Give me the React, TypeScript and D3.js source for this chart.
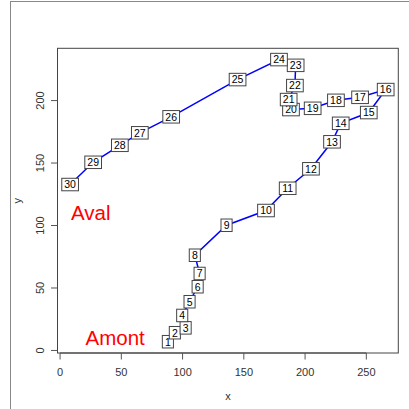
import React from "react";
import * as d3 from "d3";

const ids = [1,2,3,4,5,6,7,8,9,10,11,12,13,14,15,16,17,18,19,20,21,22,23,24,25,26,27,28,29,30];
const xs = [88.0,93.7,102.5,99.7,105.7,112.3,113.9,110.0,135.9,168.1,185.8,204.8,222.0,229.1,252.0,265.8,244.9,225.2,206.2,188.5,186.6,191.7,192.3,178.7,144.9,90.7,65.1,48.8,27.0,8.2];
const ys = [7.0,14.2,18.1,28.0,39.0,51.0,61.6,76.2,100.2,112.0,129.8,145.4,167.0,181.8,190.4,208.8,202.6,200.2,193.8,192.8,200.8,212.0,228.2,232.8,216.8,187.0,174.2,164.2,150.6,132.8];
const xTicks = [0,50,100,150,200,250];
const yTicks = [0,50,100,150,200];
const annotations = [
  { text: "Aval", x: 25, y: 110 },
  { text: "Amont", x: 45, y: 10 },
];

export default function App() {
  const W = 409, H = 409;
  const left = 57.5, right = 398.3, top = 48.3, bottom = 353;
  const [x0, x1] = d3.extent(xs) as [number, number];
  const [y0, y1] = d3.extent(ys) as [number, number];
  const px = (x1 - x0) * 0.04, py = (y1 - y0) * 0.04;
  const xScale = d3.scaleLinear().domain([x0 - px, x1 + px]).range([left, right]);
  const yScale = d3.scaleLinear().domain([y0 - py, y1 + py]).range([bottom, top]);
  const pts = ids.map((id, i) => ({ id, x: xs[i], y: ys[i] }));
  const line = d3.line<{ x: number; y: number }>().x(d => xScale(d.x)).y(d => yScale(d.y));
  const font = "Liberation Sans, Arial, Helvetica, sans-serif";
  const axisCol = "#555";
  return (
    <svg width={W} height={H} style={{ position: "absolute", left: 0, top: 0, background: "#fff" }} fontFamily={font}>
      <rect x={0} y={0} width={W} height={H} fill="#fff" />
      <line x1={10.5} y1={1} x2={10.5} y2={H} stroke="#888" strokeWidth={1} />
      <line x1={10} y1={1.5} x2={W} y2={1.5} stroke="#888" strokeWidth={1} />
      <rect x={left} y={top} width={right - left} height={bottom - top} fill="none" stroke="#444" strokeWidth={1} />
      {/* x axis */}
      <line x1={xScale(xTicks[0])} x2={xScale(xTicks[xTicks.length - 1])} y1={bottom} y2={bottom} stroke="#444" />
      {xTicks.map(t => (
        <g key={"xt" + t}>
          <line x1={xScale(t)} x2={xScale(t)} y1={bottom} y2={bottom + 6.5} stroke={axisCol} />
          <text x={xScale(t)} y={bottom + 22.5} textAnchor="middle" fontSize={11} fill="#333">{t}</text>
        </g>
      ))}
      {/* y axis */}
      {yTicks.map(t => (
        <g key={"yt" + t}>
          <line x1={left - 6.5} x2={left} y1={yScale(t)} y2={yScale(t)} stroke={axisCol} />
          <text transform={`translate(${left - 14},${yScale(t)}) rotate(-90)`} textAnchor="middle" fontSize={11} fill="#333">{t}</text>
        </g>
      ))}
      <text x={(left + right) / 2} y={400} textAnchor="middle" fontSize={11} fill="#333">x</text>
      <text transform={`translate(21,${(top + bottom) / 2}) rotate(-90)`} textAnchor="middle" fontSize={11} fill="#333">y</text>
      <path d={line(pts) || ""} fill="none" stroke="#0000ff" strokeWidth={1.5} />
      {pts.map(p => {
        const s = String(p.id);
        const w = s.length * 5.6 + 5.5;
        const h = 12.5;
        const cx = xScale(p.x), cy = yScale(p.y);
        return (
          <g key={"p" + p.id}>
            <rect x={cx - w / 2} y={cy - h / 2} width={w} height={h} fill="#fff" stroke="#444" strokeWidth={1} />
            <text x={cx} y={cy + 3.8} textAnchor="middle" fontSize={10.5} fill="#000">{s}</text>
          </g>
        );
      })}
      {annotations.map(a => (
        <text key={a.text} x={xScale(a.x)} y={yScale(a.y) + 7.2} textAnchor="middle" fontSize={20.5} fill="#ff0000">{a.text}</text>
      ))}
    </svg>
  );
}
